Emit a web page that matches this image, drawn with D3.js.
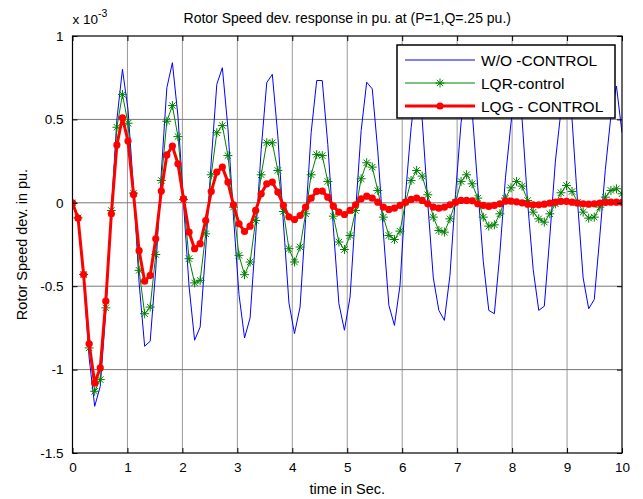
<!DOCTYPE html>
<html>
<head>
<meta charset="utf-8">
<script src="https://cdn.jsdelivr.net/npm/d3@7"></script>
<style>
  body { margin: 0; background: #fff; }
  text { font-family: "Liberation Sans", Arial, sans-serif; fill: #000; }
</style>
</head>
<body>
<div id="chart"></div>
<script>
// time samples (s)
const time = [
  0, 0.101, 0.202, 0.303, 0.404, 0.505, 0.606, 0.707, 0.808, 0.909,
  1.010, 1.111, 1.212, 1.313, 1.414, 1.515, 1.616, 1.717, 1.818, 1.919,
  2.020, 2.121, 2.222, 2.323, 2.424, 2.525, 2.626, 2.727, 2.828, 2.929,
  3.030, 3.131, 3.232, 3.333, 3.434, 3.535, 3.636, 3.737, 3.838, 3.939,
  4.040, 4.141, 4.242, 4.343, 4.444, 4.545, 4.646, 4.747, 4.848, 4.949,
  5.051, 5.152, 5.253, 5.354, 5.455, 5.556, 5.657, 5.758, 5.859, 5.960,
  6.061, 6.162, 6.263, 6.364, 6.465, 6.566, 6.667, 6.768, 6.869, 6.970,
  7.071, 7.172, 7.273, 7.374, 7.475, 7.576, 7.677, 7.778, 7.879, 7.980,
  8.081, 8.182, 8.283, 8.384, 8.485, 8.586, 8.687, 8.788, 8.889, 8.990,
  9.091, 9.192, 9.293, 9.394, 9.495, 9.596, 9.697, 9.798, 9.899, 10.0
];

// rotor speed deviation, x 10^-3 pu
const woControl = [
  0, -0.10, -0.46, -0.93, -1.22, -1.10, -0.65, -0.05, 0.50, 0.80,
  0.56, 0.08, -0.48, -0.86, -0.83, -0.40, 0.18, 0.69, 0.84, 0.52,
  0.00, -0.50, -0.824, -0.745, -0.28, 0.25, 0.71, 0.81, 0.45, -0.08,
  -0.55, -0.81, -0.69, -0.20, 0.32, 0.72, 0.77, 0.40, -0.12, -0.60,
  -0.784, -0.625, -0.10, 0.42, 0.733, 0.733, 0.35, -0.15, -0.605, -0.764,
  -0.565, -0.05, 0.433, 0.723, 0.683, 0.31, -0.18, -0.615, -0.735, -0.495,
  0.05, 0.45, 0.72, 0.50, 0.0, -0.45, -0.645, -0.705, -0.435, 0.05,
  0.48, 0.72, 0.55, 0.10, -0.35, -0.645, -0.665, -0.30, 0.15, 0.48,
  0.72, 0.50, 0.0, -0.40, -0.645, -0.62, -0.20, 0.25, 0.55, 0.72,
  0.50, 0.0, -0.45, -0.635, -0.58, -0.20, 0.20, 0.52, 0.70, 0.42
];

const lqrControl = [
  0, -0.09, -0.43, -0.87, -1.13, -1.06, -0.63, -0.046, 0.453, 0.65,
  0.477, 0.058, -0.405, -0.665, -0.625, -0.31, 0.134, 0.489, 0.583, 0.397,
  0.02, -0.335, -0.48, -0.465, -0.186, 0.168, 0.42, 0.463, 0.283, -0.026,
  -0.315, -0.431, -0.355, -0.106, 0.168, 0.36, 0.36, 0.194, -0.052, -0.275,
  -0.355, -0.265, -0.066, 0.168, 0.289, 0.283, 0.128, -0.08, -0.235, -0.28,
  -0.196, -0.046, 0.144, 0.24, 0.214, 0.074, -0.086, -0.196, -0.22, -0.17,
  0.004, 0.134, 0.194, 0.16, 0.048, -0.086, -0.166, -0.176, -0.096, 0.004,
  0.128, 0.168, 0.114, 0.028, -0.086, -0.14, -0.132, -0.066, 0.028, 0.09,
  0.128, 0.10, 0.014, -0.056, -0.096, -0.116, -0.066, -0.006, 0.06, 0.104,
  0.068, 0.004, -0.056, -0.092, -0.086, -0.026, 0.034, 0.074, 0.084, 0.054
];

const lqgControl = [
  0, -0.092, -0.43, -0.845, -1.08, -0.99, -0.59, -0.066, 0.347, 0.51,
  0.37, 0.05, -0.287, -0.47, -0.435, -0.216, 0.07, 0.287, 0.34, 0.234,
  0.024, -0.176, -0.275, -0.245, -0.106, 0.068, 0.184, 0.214, 0.124, -0.012,
  -0.126, -0.172, -0.14, -0.046, 0.054, 0.114, 0.124, 0.064, -0.016, -0.084,
  -0.1, -0.076, -0.026, 0.028, 0.068, 0.07, 0.034, -0.02, -0.056, -0.07,
  -0.046, -0.012, 0.024, 0.04, 0.028, 0.004, -0.026, -0.04, -0.032, -0.016,
  0.004, 0.02, 0.028, 0.014, -0.006, -0.026, -0.032, -0.026, -0.012, 0.004,
  0.014, 0.014, 0.012, -0.006, -0.016, -0.022, -0.016, -0.006, 0.01, 0.01,
  0.006, 0.0, -0.008, -0.012, -0.012, -0.008, -0.002, 0.004, 0.008, 0.008,
  0.004, -0.002, -0.006, -0.008, -0.006, -0.002, 0.002, 0.004, 0.004, 0.002
];

const xTicks = [0, 1, 2, 3, 4, 5, 6, 7, 8, 9, 10];
const yTicks = [1, 0.5, 0, -0.5, -1, -1.5];
const yTickLabels = ["1", "0.5", "0", "-0.5", "-1", "-1.5"];
const seriesNames = ["W/O -CONTROL", "LQR-control", "LQG - CONTROL"];

const width = 643, height = 499;
const margin = { top: 36, right: 21, bottom: 46, left: 72.5 };
const innerW = width - margin.left - margin.right;
const innerH = height - margin.top - margin.bottom;

const svg = d3.select('#chart').append('svg')
  .attr('width', width)
  .attr('height', height)
  .attr('viewBox', [0, 0, width, height]);

const g = svg.append('g').attr('transform', `translate(${margin.left},${margin.top})`);

const x = d3.scaleLinear().domain([0, 10]).range([0, innerW]);
const y = d3.scaleLinear().domain([-1.5, 1]).range([innerH, 0]);

// grille
g.append('g')
  .selectAll('line')
  .data(xTicks.slice(1, -1))
  .join('line')
  .attr('x1', d => x(d)).attr('x2', d => x(d))
  .attr('y1', 0).attr('y2', innerH)
  .attr('stroke', '#9a9a9a').attr('stroke-width', 1);

g.append('g')
  .selectAll('line')
  .data(yTicks.slice(1, -1))
  .join('line')
  .attr('x1', 0).attr('x2', innerW)
  .attr('y1', d => y(d)).attr('y2', d => y(d))
  .attr('stroke', '#777').attr('stroke-width', 1);

g.append('defs').append('clipPath').attr('id', 'clip')
  .append('rect').attr('width', innerW).attr('height', innerH);

const plot = g.append('g').attr('clip-path', 'url(#clip)');

const line = d3.line().x((d, i) => x(time[i])).y(d => y(d));

// W/O control
plot.append('path')
  .datum(woControl)
  .attr('fill', 'none')
  .attr('stroke', '#0000ff')
  .attr('stroke-width', 1)
  .attr('d', line);

// LQR
const star = 'M-4.5,0H4.5M0,-4.5V4.5M-3.2,-3.2L3.2,3.2M-3.2,3.2L3.2,-3.2';
plot.append('path')
  .datum(lqrControl)
  .attr('fill', 'none')
  .attr('stroke', '#008000')
  .attr('stroke-width', 1)
  .attr('d', line);
plot.append('g')
  .selectAll('path')
  .data(lqrControl)
  .join('path')
  .attr('transform', (d, i) => `translate(${x(time[i])},${y(d)})`)
  .attr('d', star)
  .attr('stroke', '#008000')
  .attr('stroke-width', 1)
  .attr('fill', 'none');

// LQG
plot.append('path')
  .datum(lqgControl)
  .attr('fill', 'none')
  .attr('stroke', '#ff0000')
  .attr('stroke-width', 3)
  .attr('stroke-linejoin', 'round')
  .attr('d', line);
plot.append('g')
  .selectAll('circle')
  .data(lqgControl)
  .join('circle')
  .attr('cx', (d, i) => x(time[i]))
  .attr('cy', d => y(d))
  .attr('r', 3.6)
  .attr('fill', '#ff0000');

// axes
const xAxis = g.append('g')
  .attr('transform', `translate(0,${innerH})`)
  .call(d3.axisBottom(x).tickValues(xTicks).tickSize(-5).tickPadding(9).tickFormat(d3.format('d')));
const yAxis = g.append('g')
  .call(d3.axisLeft(y).tickValues(yTicks).tickSize(-5).tickPadding(9).tickFormat((d, i) => yTickLabels[i]));
g.append('g')
  .call(d3.axisTop(x).tickValues(xTicks).tickSize(-5).tickFormat(''));
g.append('g')
  .attr('transform', `translate(${innerW},0)`)
  .call(d3.axisRight(y).tickValues(yTicks).tickSize(-5).tickFormat(''));

svg.selectAll('.domain').remove();
svg.selectAll('.tick line').attr('stroke', '#000');
xAxis.selectAll('text').style('font-size', '13.5px');
yAxis.selectAll('text').style('font-size', '13.5px');

g.append('rect')
  .attr('width', innerW).attr('height', innerH)
  .attr('fill', 'none').attr('stroke', '#000').attr('stroke-width', 1.2);

// titre et libellés
svg.append('text')
  .attr('x', margin.left + innerW / 2).attr('y', 23)
  .attr('text-anchor', 'middle')
  .style('font-size', '14px')
  .text('Rotor Speed dev. response in pu. at (P=1,Q=.25 pu.)');

const expo = svg.append('text').attr('x', margin.left).attr('y', 24).style('font-size', '13.5px');
expo.append('tspan').text('x 10');
expo.append('tspan').attr('dy', -7).style('font-size', '10.5px').text('-3');

svg.append('text')
  .attr('x', margin.left + innerW / 2).attr('y', 494)
  .attr('text-anchor', 'middle')
  .style('font-size', '14.5px')
  .text('time in Sec.');

svg.append('text')
  .attr('transform', `translate(27,${margin.top + innerH / 2}) rotate(-90)`)
  .attr('text-anchor', 'middle')
  .style('font-size', '14.5px')
  .text('Rotor Speed dev. in pu.');

// légende
const lg = svg.append('g').attr('transform', 'translate(397,45)');
lg.append('rect')
  .attr('width', 218).attr('height', 73)
  .attr('fill', '#fff').attr('stroke', '#000').attr('stroke-width', 1.5);

const rows = [
  { color: '#0000ff', w: 1, marker: null },
  { color: '#008000', w: 1, marker: 'star' },
  { color: '#ff0000', w: 3, marker: 'dot' }
];
rows.forEach((r, i) => {
  const yy = 15 + i * 23;
  lg.append('line')
    .attr('x1', 8).attr('x2', 78).attr('y1', yy).attr('y2', yy)
    .attr('stroke', r.color).attr('stroke-width', r.w);
  if (r.marker === 'star') {
    lg.append('path').attr('d', star).attr('transform', `translate(43,${yy})`)
      .attr('stroke', r.color).attr('fill', 'none');
  } else if (r.marker === 'dot') {
    lg.append('circle').attr('cx', 43).attr('cy', yy).attr('r', 3.6).attr('fill', r.color);
  }
  lg.append('text')
    .attr('x', 84).attr('y', yy + 5.5)
    .style('font-size', '15.5px')
    .text(seriesNames[i]);
});
</script>
</body>
</html>
